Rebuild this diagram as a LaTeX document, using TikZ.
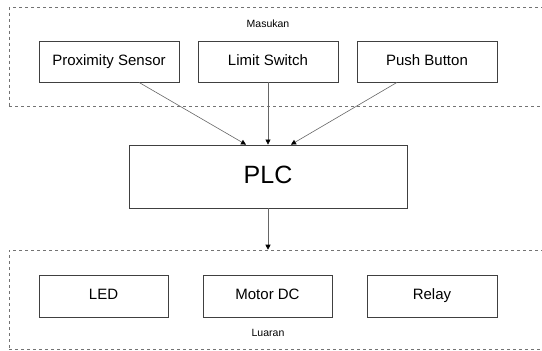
\documentclass[tikz,border=0pt]{standalone}
\usepackage{fontspec}
\setmainfont{Liberation Sans}
\usetikzlibrary{arrows.meta}

\begin{document}
\begin{tikzpicture}[x=1pt, y=-1pt, every node/.style={font=\fontsize{15}{18}\selectfont}, >={Triangle[length=5pt, width=5pt, color=black]}]
	\clip (0,0) rectangle (542,351);
	\tikzset{blok/.style={draw=black!75, line width=0.8pt, minimum height=41pt, inner sep=0pt, text height=10.8pt, text depth=3.2pt},
		grup/.style={draw=black!55, dashed, line width=0.6pt, minimum width=551pt, minimum height=99pt, inner sep=0pt},
		kabel/.style={->, draw=black!60, line width=0.6pt}}
	\node[grup] (IN) at (284.5,57) {};
	\node[grup] (OUT) at (284.5,299.5) {};
	\node[font=\fontsize{10.5}{12}\selectfont] (lin) at (268,24) {Masukan};
	\node[font=\fontsize{10.5}{12}\selectfont] (lout) at (268,333) {Luaran};
	\node[blok, minimum width=140pt] (PS) at (109,61.5) {Proximity Sensor};
	\node[blok, minimum width=140pt] (LS) at (268,61.5) {Limit Switch};
	\node[blok, minimum width=140pt] (PB) at (427,61.5) {Push Button};
	\node[blok, minimum width=278pt, minimum height=63pt, text height=18pt, text depth=5pt, font=\fontsize{25}{30}\selectfont] (PLC) at (268,176.5) {PLC};
	\node[blok, minimum width=129pt, minimum height=42pt] (LED) at (103.5,296) {LED};
	\node[blok, minimum width=129pt, minimum height=42pt] (MDC) at (267.5,296) {Motor DC};
	\node[blok, minimum width=130pt, minimum height=42pt] (RL) at (432,296) {Relay};
	\draw[kabel] ([xshift=30pt]PS.south) -- ([xshift=-22pt]PLC.north);
	\draw[kabel] (LS.south) -- (PLC.north);
	\draw[kabel] ([xshift=-30pt]PB.south) -- ([xshift=23pt]PLC.north);
	\draw[kabel] (PLC.south) -- (PLC.south |- OUT.north);
\end{tikzpicture}
\end{document}
